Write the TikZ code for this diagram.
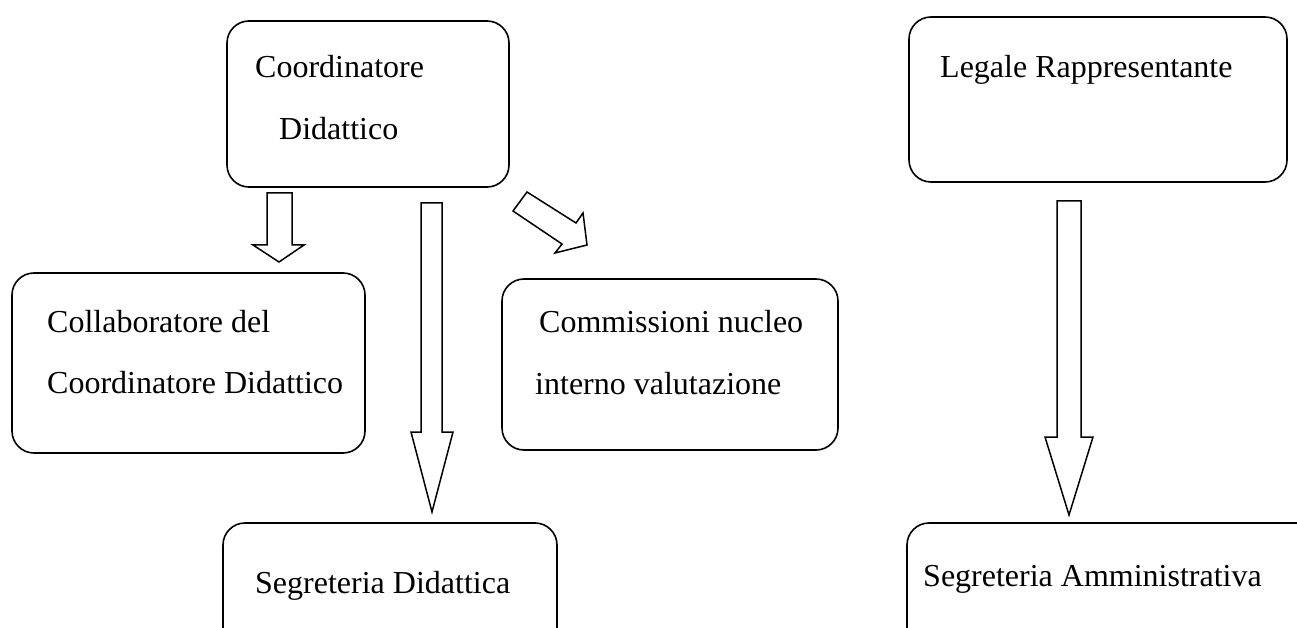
\documentclass[tikz,border=0pt]{standalone}
\usepackage{fontspec}
\setmainfont{Liberation Serif}
\begin{document}
\begin{tikzpicture}[x=1pt,y=-1pt,
  box/.style={draw=black,line width=1.6pt,rounded corners=22pt},
  lbl/.style={anchor=base west,inner sep=0pt,font=\fontsize{32}{38}\selectfont},
  blockarrow/.style={draw=black,line width=1.5pt,fill=white,line join=miter}]
\useasboundingbox (0,0) rectangle (1297,628);
\clip (0,0) rectangle (1297,628);
% boxes
\draw[box] (227,21) rectangle (509,187);
\coordinate (coord) at (368,104);
\draw[box] (12,273) rectangle (365,453);
\coordinate (coll) at (188,363);
\draw[box] (502,279) rectangle (838,450);
\coordinate (comm) at (670,364);
\draw[box] (223,523) rectangle (557,700);
\coordinate (segd) at (390,600);
\draw[box] (909,17) rectangle (1287,182);
\coordinate (leg) at (1098,100);
\draw[box] (907,523) rectangle (1340,700);
\coordinate (sega) at (1100,600);
% texts
\node[lbl] (t1) at (255,78) {Coordinatore};
\node[lbl] (t2) at (279,140) {Didattico};
\node[lbl] (t3) at (47,332) {Collaboratore del};
\node[lbl] (t4) at (47,393) {Coordinatore Didattico};
\node[lbl] (t5) at (539,332) {Commissioni nucleo};
\node[lbl] (t6) at (535,394) {interno valutazione};
\node[lbl] (t7) at (255,593) {Segreteria Didattica};
\node[lbl] (t8) at (940,78) {Legale Rappresentante};
\node[lbl] (t9) at (923,586) {Segreteria Amministrativa};
% block arrows
\draw[blockarrow] (267,193) -- (292,193) -- (292,245) -- (304,245) -- (279,262) -- (253,245) -- (267,245) -- cycle;
\draw[blockarrow] (421,203) -- (442,203) -- (442,432) -- (453,432) -- (432,512) -- (411,432) -- (421,432) -- cycle;
\draw[blockarrow] (527,192) -- (576,223) -- (583,213) -- (587,245) -- (555,253) -- (562,244) -- (513,211) -- cycle;
\draw[blockarrow] (1057,201) -- (1081,201) -- (1081,437) -- (1093,437) -- (1069,515) -- (1045,437) -- (1057,437) -- cycle;
\end{tikzpicture}
\end{document}
